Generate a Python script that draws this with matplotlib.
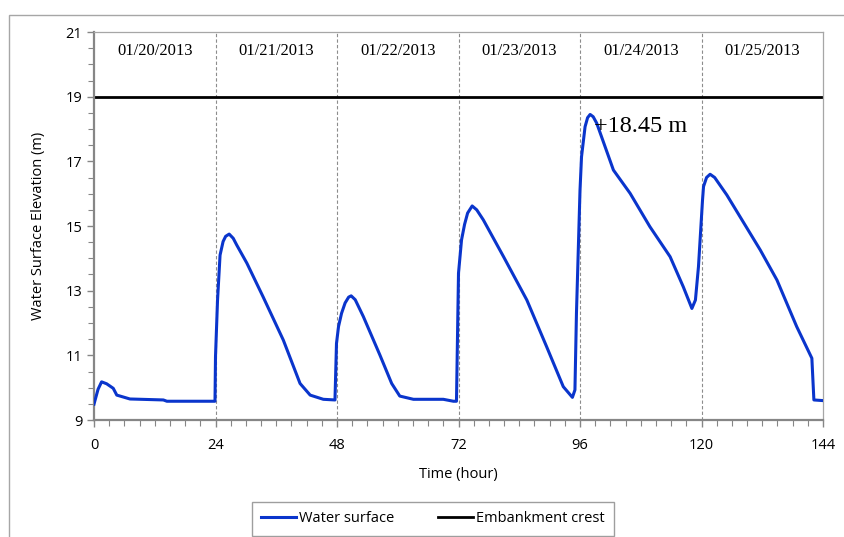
import matplotlib
matplotlib.use("Agg")
import matplotlib.pyplot as plt
from matplotlib.patches import Rectangle
from matplotlib.ticker import MultipleLocator

# hourly water surface record
hours = [0, 0.8, 1.5, 2.5, 3.8, 4.5, 7.1, 13.7, 14.4, 23.9,
         24.0, 24.4, 24.9, 25.5, 26.0, 26.7, 27.5, 28.2, 30.2, 33.4, 37.4, 40.7, 42.7, 45.3, 47.6,
         47.9, 48.3, 48.9, 49.6, 50.3, 50.8, 51.6, 53.2, 56.5, 58.8, 60.4, 63.1, 69.0, 71.0, 71.6,
         72.0, 72.6, 73.2, 73.8, 74.7, 75.6, 76.9, 80.9, 85.5, 89.4, 92.7, 94.5, 95.0,
         95.3, 96.0, 96.3, 97.0, 97.5, 98.0, 98.6, 99.3, 102.6, 105.9, 109.8, 113.8, 116.4, 118.1,
         118.8, 119.4, 120.2, 120.4, 121.0, 121.7, 122.6, 125.0, 127.6, 131.6, 134.9, 138.8,
         141.8, 142.2, 144.0]
elev = [9.49, 9.95, 10.18, 10.12, 9.98, 9.77, 9.65, 9.62, 9.58, 9.58,
        10.96, 12.7, 14.1, 14.52, 14.68, 14.75, 14.62, 14.41, 13.85, 12.81, 11.47, 10.13, 9.77, 9.64, 9.62,
        11.37, 11.89, 12.30, 12.62, 12.8, 12.84, 12.72, 12.2, 11.0, 10.13, 9.74, 9.64, 9.64, 9.58, 9.58,
        13.54, 14.57, 15.05, 15.4, 15.62, 15.5, 15.19, 14.05, 12.71, 11.27, 10.03, 9.70, 9.93,
        12.3, 16.1, 17.14, 18.07, 18.35, 18.45, 18.38, 18.18, 16.73, 16.01, 14.98, 14.05, 13.12, 12.45,
        12.71, 13.74, 15.8, 16.22, 16.5, 16.6, 16.5, 15.96, 15.29, 14.26, 13.33, 11.89,
        10.91, 9.62, 9.60]

crest = 19.0
peak_label = "+18.45 m"
day_labels = ["01/20/2013", "01/21/2013", "01/22/2013",
              "01/23/2013", "01/24/2013", "01/25/2013"]
x_ticks = [0, 24, 48, 72, 96, 120, 144]
y_ticks = [9, 11, 13, 15, 17, 19, 21]

axis_gray = "#868686"

fig = plt.figure(figsize=(8.44, 5.37), dpi=100)
fig.patches.append(Rectangle((9 / 844, -0.1), 1.2, 1 - 15 / 537 + 0.1,
                             transform=fig.transFigure, fill=False,
                             edgecolor="#a6a6a6", linewidth=1.0))
ax = fig.add_axes([94 / 844, 117 / 537, 729 / 844, 388 / 537])

for d in x_ticks[1:-1]:
    ax.axvline(d, color="#8c8c8c", linestyle=(0, (3, 2)), linewidth=0.8, zorder=1)

ax.plot(hours, elev, color="#0a35cc", linewidth=2.2, label="Water surface",
        zorder=3, solid_joinstyle="round")
ax.axhline(crest, color="black", linewidth=2.0, label="Embankment crest", zorder=2)

for i, lab in enumerate(day_labels):
    ax.text(24 * i + 12, 20.4, lab, ha="center", va="center",
            fontsize=12, family="Liberation Serif")

peak_i = elev.index(max(elev))
ax.text(hours[peak_i] + 0.7, max(elev) - 0.38, peak_label, ha="left", va="center",
        fontsize=17.5, family="Liberation Serif")

ax.set_xlim(0, 144)
ax.set_ylim(9, 21)
ax.set_xticks(x_ticks)
ax.set_yticks(y_ticks)
ax.xaxis.set_minor_locator(MultipleLocator(3))
ax.yaxis.set_minor_locator(MultipleLocator(0.5))
ax.tick_params(which="both", direction="out", color=axis_gray, labelsize=10.5)
ax.tick_params(which="major", length=5, width=1)
ax.tick_params(which="minor", length=4, width=0.8)
ax.tick_params(axis="x", pad=8)
for lab in ax.get_xticklabels() + ax.get_yticklabels():
    lab.set_family("Open Sans")

for side in ["left", "bottom"]:
    ax.spines[side].set_color(axis_gray)
    ax.spines[side].set_linewidth(1.6)
for side in ["top", "right"]:
    ax.spines[side].set_color("#a6a6a6")
    ax.spines[side].set_linewidth(0.9)

ax.set_xlabel("Time (hour)", fontsize=10.5, family="Open Sans", labelpad=10)
ax.set_ylabel("Water Surface Elevation (m)", fontsize=10.5, family="Open Sans", labelpad=14)

leg = ax.legend(loc="center", bbox_to_anchor=(433 / 844, 18 / 537),
                bbox_transform=fig.transFigure, ncol=2, frameon=True, fancybox=False,
                prop={"family": "Open Sans", "size": 10.5}, handlelength=2.4,
                columnspacing=3.0, borderpad=0.65, borderaxespad=0, handletextpad=0.2)
leg.get_frame().set_edgecolor(axis_gray)
leg.get_frame().set_linewidth(1.0)

fig.savefig("out.png", dpi=100)
